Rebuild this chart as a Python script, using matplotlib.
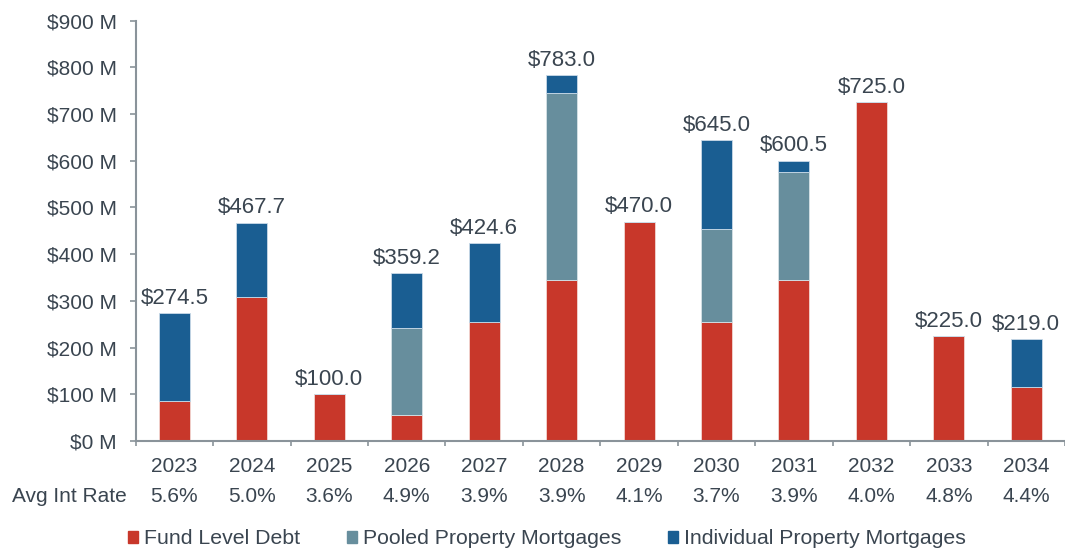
import matplotlib
matplotlib.use("Agg")
import matplotlib.pyplot as plt
from matplotlib.patches import Patch
from matplotlib.transforms import blended_transform_factory
import numpy as np

plt.rcParams['font.family'] = ['Liberation Sans', 'DejaVu Sans']

# Debt maturities by year ($ millions)
years = ['2023', '2024', '2025', '2026', '2027', '2028',
         '2029', '2030', '2031', '2032', '2033', '2034']
fund_level = [85.0, 307.7, 100.0, 55.0, 255.0, 345.0,
              470.0, 255.0, 345.0, 725.0, 225.0, 115.0]
pooled = [0.0, 0.0, 0.0, 187.0, 0.0, 401.0,
          0.0, 200.0, 231.0, 0.0, 0.0, 0.0]
individual = [189.5, 160.0, 0.0, 117.2, 169.6, 37.0,
              0.0, 190.0, 24.5, 0.0, 0.0, 104.0]
totals = [274.5, 467.7, 100.0, 359.2, 424.6, 783.0,
          470.0, 645.0, 600.5, 725.0, 225.0, 219.0]
avg_rates = ['5.6%', '5.0%', '3.6%', '4.9%', '3.9%', '3.9%',
             '4.1%', '3.7%', '3.9%', '4.0%', '4.8%', '4.4%']
y_ticks = [0, 100, 200, 300, 400, 500, 600, 700, 800, 900]
y_tick_labels = ['$0 M', '$100 M', '$200 M', '$300 M', '$400 M',
                 '$500 M', '$600 M', '$700 M', '$800 M', '$900 M']

RED = '#C8372A'
POOLED = '#678E9D'
BLUE = '#1A5E92'
TEXT = '#3A4550'
SPINE = '#8A939A'
FS = 15

fig = plt.figure(figsize=(10.65, 5.48), dpi=100)
ax = fig.add_axes([0.1274, 0.1953, 0.8726, 0.7669])

x = np.arange(len(years))
w = 0.4
fund = np.array(fund_level)
pool = np.array(pooled)
indiv = np.array(individual)

ax.bar(x, fund, w, color=RED, edgecolor='#F2D6D2', linewidth=0.6, zorder=2)
ax.bar(x, pool, w, bottom=fund, color=POOLED, edgecolor='#D6E2E7',
       linewidth=0.6, zorder=2)
ax.bar(x, indiv, w, bottom=fund + pool, color=BLUE, edgecolor='#C9DAE8',
       linewidth=0.6, zorder=2)

for xi, t in zip(x, totals):
    ax.annotate(f'${t:,.1f}', (xi, t), xytext=(0, 3), textcoords='offset points',
                ha='center', va='bottom', fontsize=16, color=TEXT)

ax.set_xlim(-0.5, len(years) - 0.5)
ax.set_ylim(0, 900)
ax.set_yticks(y_ticks)
ax.set_yticklabels(y_tick_labels)
ax.set_xticks(np.arange(len(years) + 1) - 0.5)
ax.set_xticklabels([])

ax.tick_params(axis='y', direction='out', length=4.5, width=1.2, color=SPINE,
               labelsize=FS, labelcolor=TEXT, pad=9)
ax.tick_params(axis='x', direction='out', length=3.5, width=1.2, color=SPINE)

for side in ('top', 'right'):
    ax.spines[side].set_visible(False)
for side in ('left', 'bottom'):
    ax.spines[side].set_color(SPINE)
    ax.spines[side].set_linewidth(1.5)

# Year labels and average interest rate row under the axis
trans = blended_transform_factory(ax.transData, fig.transFigure)
for xi, yr, rate in zip(x, years, avg_rates):
    ax.text(xi, 1 - 466 / 548, yr, transform=trans, ha='center', va='center',
            fontsize=FS, color=TEXT)
    ax.text(xi, 1 - 497 / 548, rate, transform=trans, ha='center', va='center',
            fontsize=FS, color=TEXT)
fig.text(12 / 1065, 1 - 497 / 548, 'Avg Int Rate', ha='left', va='center',
         fontsize=FS, color=TEXT)

handles = [Patch(color=RED, label='Fund Level Debt'),
           Patch(color=POOLED, label='Pooled Property Mortgages'),
           Patch(color=BLUE, label='Individual Property Mortgages')]
fig.legend(handles=handles, loc='center', bbox_to_anchor=(547 / 1065, 1 - 539 / 548),
           ncol=3, frameon=False, fontsize=15.3, labelcolor=TEXT,
           handlelength=0.45, handleheight=0.55, handletextpad=0.3,
           columnspacing=2.2, borderpad=0, borderaxespad=0)

fig.savefig('out.png', dpi=100)
